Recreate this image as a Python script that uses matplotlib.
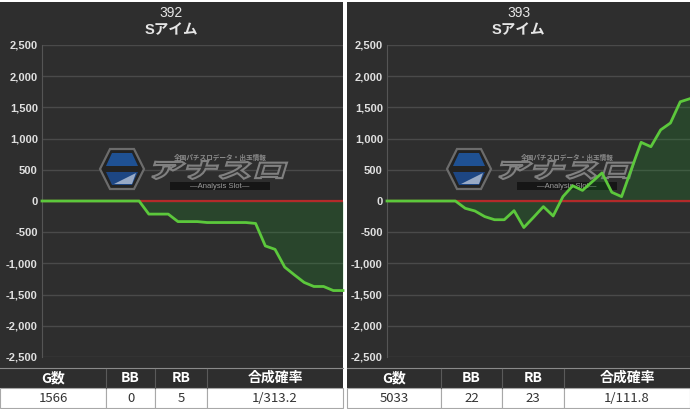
import matplotlib.pyplot as plt
from matplotlib.patches import Rectangle, Polygon, PathPatch
from matplotlib.textpath import TextPath
from matplotlib.font_manager import FontProperties
from matplotlib.transforms import Affine2D

plt.rcParams['font.family'] = ['Liberation Sans', 'Noto Sans CJK JP', 'DejaVu Sans']

# data
machines = ["392", "393"]
machine_name = "Sアイム"
left_diff = [0, 0, 0, 0, 0, 0, 0, 0, 0, 0, 0,
             -210, -210, -210, -330, -330, -330, -345, -345, -345, -345, -345,
             -360, -720, -775, -1060, -1185, -1305, -1370, -1370, -1435, -1435]
right_diff = [0, 0, 0, 0, 0, 0, 0, 0,
              -117, -160, -250, -300, -300, -155, -425, -260, -90, -240,
              70, 245, 170, 310, 450, 140, 70, 510, 940, 870, 1140, 1250, 1590, 1640]
y_ticks = [-2500, -2000, -1500, -1000, -500, 0, 500, 1000, 1500, 2000, 2500]

table_header = ["G数", "BB", "RB", "合成確率"]
g_counts = [1566, 5033]
bb_counts = [0, 22]
rb_counts = [5, 23]
probs = ["1/313.2", "1/111.8"]

W, H = 690, 409
BG = '#2e2e2e'
CJK = ['Noto Sans CJK JP', 'DejaVu Sans']

fig = plt.figure(figsize=(W / 100, H / 100), dpi=100, facecolor='white')
# pixel coords measured from top-left
px = Affine2D().scale(1 / W, -1 / H).translate(0, 1) + fig.transFigure


def draw_logo(ax, ox):
    cx, cy = ox + 122, 169
    hexa = [(cx - 22, cy), (cx - 12, cy - 20), (cx + 12, cy - 20),
            (cx + 22, cy), (cx + 12, cy + 20), (cx - 12, cy + 20)]
    ax.add_patch(Polygon(hexa, closed=True, transform=px, facecolor='#232323',
                         edgecolor='#6c6c6c', lw=1.6, zorder=1.2, clip_on=False))
    top = [(cx - 10, cy - 16), (cx + 10, cy - 16), (cx + 16, cy - 3), (cx - 16, cy - 3)]
    bot = [(cx - 16, cy + 3), (cx + 16, cy + 3), (cx + 10, cy + 16), (cx - 10, cy + 16)]
    ax.add_patch(Polygon(top, closed=True, transform=px, facecolor='#1f5aa8',
                         edgecolor='none', alpha=0.85, zorder=1.3, clip_on=False))
    ax.add_patch(Polygon(bot, closed=True, transform=px, facecolor='#1d4d95',
                         edgecolor='none', alpha=0.85, zorder=1.3, clip_on=False))
    tri = [(cx - 8, cy + 15), (cx + 14, cy + 4), (cx + 10, cy + 15)]
    ax.add_patch(Polygon(tri, closed=True, transform=px, facecolor='#b8c4d8',
                         edgecolor='none', alpha=0.8, zorder=1.35, clip_on=False))

    tp = TextPath((0, 0), "アナスロ", size=1,
                  prop=FontProperties(family='Noto Sans CJK JP', weight='black'))
    bb = tp.get_extents()
    tr = (Affine2D().translate(-bb.x0, -bb.y0)
          .scale(132 / bb.width, -18 / bb.height)
          .skew_deg(-17, 0)
          .translate(ox + 150, 179)) + px
    ax.add_patch(PathPatch(tp, transform=tr, facecolor='#333333', edgecolor='#808080',
                           lw=1.5, zorder=1.3, clip_on=False))
    ax.text(ox + 220, 157, "全国パチスロデータ・出玉情報", transform=px, fontsize=4.8,
            color='#8a8a8a', ha='center', va='center', zorder=1.3,
            family=CJK, weight='bold')
    ax.add_patch(Rectangle((ox + 170, 182), 100, 8, transform=px, facecolor='#161616',
                           edgecolor='none', zorder=1.3, clip_on=False))
    ax.text(ox + 220, 186, "—Analysis Slot—", transform=px, fontsize=5.5,
            color='#9c9c9c', ha='center', va='center', zorder=1.4)


panels = [
    (0, 343, 42, left_diff, [0, 106, 155, 207, 343]),
    (347, 690, 387, right_diff, [347, 441, 502, 564, 690]),
]

for i, (x0, x1, axl, diff, cols) in enumerate(panels):
    # dark panel background
    fig.add_artist(Rectangle((x0, 2), x1 - x0, 386, transform=px,
                             facecolor=BG, edgecolor='none', zorder=-1))
    cx = (x0 + x1) / 2
    fig.text(cx, 13, machines[i], transform=px, ha='center', va='center',
             fontsize=10, color='#e6e6e6')
    fig.text(cx, 30, machine_name, transform=px, ha='center', va='center',
             fontsize=10.5, color='#e6e6e6', weight='bold')

    ax = fig.add_axes([axl / W, 1 - 357 / H, (x1 - axl) / W, 312 / H])
    ax.set_facecolor(BG)
    xs = list(range(len(diff)))
    ax.set_xlim(0, len(diff) - 1)
    ax.set_ylim(-2500, 2500)
    ax.set_yticks(y_ticks)
    ax.set_yticklabels([f"{v:,}" for v in y_ticks])
    ax.set_xticks([])
    ax.tick_params(axis='y', length=0, pad=3, labelsize=8, labelcolor='#e0e0e0')
    for lab in ax.get_yticklabels():
        lab.set_fontweight('bold')
    ax.set_axisbelow(True)
    ax.yaxis.grid(True, color='#4a4a4a', lw=1)
    for s in ['top', 'right', 'bottom']:
        ax.spines[s].set_visible(False)
    ax.spines['left'].set_color('#555555')

    draw_logo(ax, x0)
    ax.fill_between(xs, diff, 0, color=(0.1, 0.6, 0.15), alpha=0.22, lw=0, zorder=1.5)
    ax.axhline(0, color='#b32a2a', lw=1.6, zorder=2)
    ax.plot(xs, diff, color='#5cc83c', lw=2.0, zorder=3, solid_joinstyle='round',
            clip_on=False)

    # summary table
    fig.add_artist(plt.Line2D([x0, x1], [368, 368], transform=px, color='#8a8a8a', lw=0.8))
    vals = [str(g_counts[i]), str(bb_counts[i]), str(rb_counts[i]), probs[i]]
    for j in range(4):
        ca, cb = cols[j], cols[j + 1]
        fig.add_artist(Rectangle((ca, 388), cb - ca, 20, transform=px,
                                 facecolor='white', edgecolor='#a8a8a8', lw=0.8))
        if j > 0:
            fig.add_artist(plt.Line2D([ca, ca], [369, 388], transform=px,
                                      color='#5a5a5a', lw=0.8))
        fig.text((ca + cb) / 2, 378, table_header[j], transform=px, ha='center',
                 va='center', fontsize=10, weight='bold', color='white', family=CJK)
        fig.text((ca + cb) / 2, 398, vals[j], transform=px, ha='center',
                 va='center', fontsize=9.5, color='#333333', family=CJK)

fig.savefig('out.png', dpi=100, facecolor='white')
